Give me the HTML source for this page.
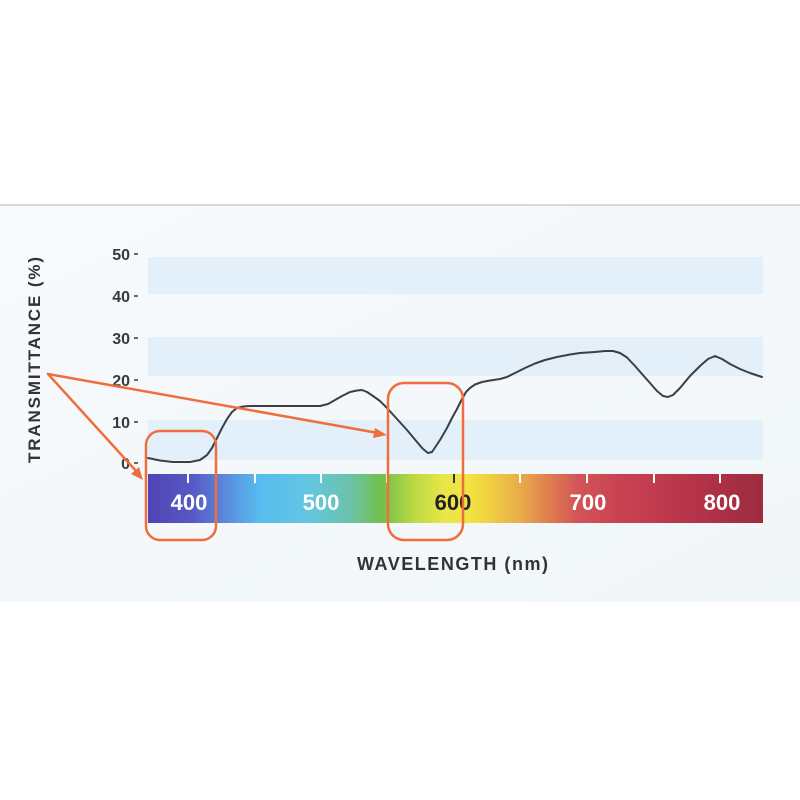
<!DOCTYPE html>
<html>
<head>
<meta charset="utf-8">
<style>
  html,body{margin:0;padding:0;background:#ffffff;}
  body{width:800px;height:800px;overflow:hidden;}
  svg{display:block;}
  text{font-family:"Liberation Sans",Arial,sans-serif;font-weight:bold;}
</style>
</head>
<body>
<svg width="800" height="800" viewBox="0 0 800 800" xmlns="http://www.w3.org/2000/svg">
  <defs>
    <linearGradient id="spec" x1="148" y1="0" x2="763" y2="0" gradientUnits="userSpaceOnUse">
      <stop offset="0" stop-color="#5044b4"/>
      <stop offset="0.07" stop-color="#5658c4"/>
      <stop offset="0.12" stop-color="#5a84da"/>
      <stop offset="0.18" stop-color="#58bbee"/>
      <stop offset="0.26" stop-color="#62c6e2"/>
      <stop offset="0.33" stop-color="#6cc2a8"/>
      <stop offset="0.38" stop-color="#72c04a"/>
      <stop offset="0.43" stop-color="#b8d844"/>
      <stop offset="0.48" stop-color="#e8e648"/>
      <stop offset="0.52" stop-color="#f2e444"/>
      <stop offset="0.555" stop-color="#f0d040"/>
      <stop offset="0.6" stop-color="#e8b048"/>
      <stop offset="0.65" stop-color="#e08050"/>
      <stop offset="0.7" stop-color="#d25458"/>
      <stop offset="0.77" stop-color="#c84252"/>
      <stop offset="0.9" stop-color="#b43248"/>
      <stop offset="1" stop-color="#9c2c3e"/>
    </linearGradient>
    <linearGradient id="panel" x1="0" y1="0" x2="1" y2="1">
      <stop offset="0" stop-color="#f7fafc"/>
      <stop offset="1" stop-color="#f1f6f9"/>
    </linearGradient>
  </defs>

  <!-- panel -->
  <rect x="0" y="0" width="800" height="205" fill="#ffffff"/>
  <rect x="0" y="204" width="800" height="2" fill="#d6d9db"/>
  <rect x="0" y="206" width="800" height="396" fill="url(#panel)"/>
  <rect x="0" y="602" width="800" height="198" fill="#ffffff"/>

  <!-- bands -->
  <rect x="148" y="257" width="615" height="37" fill="#e3f0f9"/>
  <rect x="148" y="337" width="615" height="39" fill="#e3f0f9"/>
  <rect x="148" y="420" width="615" height="40" fill="#e3f0f9"/>

  <!-- y tick labels -->
  <g fill="#3a3a3a" font-size="16" text-anchor="end">
    <text x="130" y="260">50</text>
    <text x="130" y="302">40</text>
    <text x="130" y="344">30</text>
    <text x="130" y="386">20</text>
    <text x="130" y="428">10</text>
    <text x="130" y="469">0</text>
  </g>
  <g stroke="#3a3a3a" stroke-width="1.5">
    <line x1="134" y1="254" x2="138" y2="254"/>
    <line x1="134" y1="296" x2="138" y2="296"/>
    <line x1="134" y1="338" x2="138" y2="338"/>
    <line x1="134" y1="380" x2="138" y2="380"/>
    <line x1="134" y1="422" x2="138" y2="422"/>
    <line x1="134" y1="463" x2="138" y2="463"/>
  </g>

  <!-- y axis title -->
  <text x="0" y="0" transform="translate(40,360) rotate(-90)" text-anchor="middle" font-size="17" fill="#333" textLength="206" lengthAdjust="spacing">TRANSMITTANCE (%)</text>

  <!-- spectrum bar -->
  <rect x="148" y="474" width="615" height="49" fill="url(#spec)"/>
  <g stroke="#ffffff" stroke-width="2">
    <line x1="188" y1="474" x2="188" y2="483"/>
    <line x1="255" y1="474" x2="255" y2="483"/>
    <line x1="321" y1="474" x2="321" y2="483"/>
    <line x1="387" y1="474" x2="387" y2="483"/>
    <line x1="520" y1="474" x2="520" y2="483"/>
    <line x1="587" y1="474" x2="587" y2="483"/>
    <line x1="654" y1="474" x2="654" y2="483"/>
    <line x1="720" y1="474" x2="720" y2="483"/>
  </g>
  <line x1="454" y1="474" x2="454" y2="483" stroke="#333" stroke-width="2"/>
  <g font-size="22" text-anchor="middle" fill="#ffffff">
    <text x="189" y="510">400</text>
    <text x="321" y="510">500</text>
    <text x="453" y="510" fill="#222222">600</text>
    <text x="588" y="510">700</text>
    <text x="722" y="510">800</text>
  </g>

  <!-- x axis title -->
  <text x="357" y="570" font-size="18" fill="#333" textLength="191" lengthAdjust="spacing">WAVELENGTH (nm)</text>

  <!-- curve -->
  <polyline fill="none" stroke="#3a3f48" stroke-width="2" stroke-linejoin="round" stroke-linecap="round"
    points="148,458 160,460.5 173,462 190,462 200,460 207,455 212,448 217,438 222,428 227,419 232,412 237,408 243,406.5 250,406 280,406 305,406 320,406 328,404 335,400 342,396 350,392 357,390.5 362,390 367,392 373,396 380,401 387,408 397,419 407,430 417,442 423,449 428,453 432,452 436,446 440,440 447,428 452,418 457,409 462,399 466,392 470,388 475,384.5 482,382 490,380.5 500,379 507,377 515,373 525,368 535,363.5 545,360 557,357 570,354.5 580,353 595,352 605,351 613,351 620,353 627,357.5 635,366 642,374 650,383 657,391 663,396 668,397 673,395 680,388 690,376 700,366 708,359 715,356 722,359 730,364 740,369 750,373 762,377"/>

  <!-- highlight boxes -->
  <g fill="none" stroke="#f06e3c" stroke-width="2.5">
    <rect x="146" y="431" width="70" height="109" rx="14" ry="14"/>
    <rect x="388" y="383" width="75" height="157" rx="16" ry="16"/>
  </g>

  <!-- arrows -->
  <g stroke="#f06e3c" stroke-width="2.5" stroke-linecap="round">
    <line x1="48" y1="374" x2="378" y2="433"/>
    <line x1="48" y1="374" x2="137" y2="472"/>
  </g>
  <g fill="#f06e3c">
    <polygon points="387,435 375,428 373,438"/>
    <polygon points="143,480 131,474 139,467"/>
  </g>
</svg>
</body>
</html>
